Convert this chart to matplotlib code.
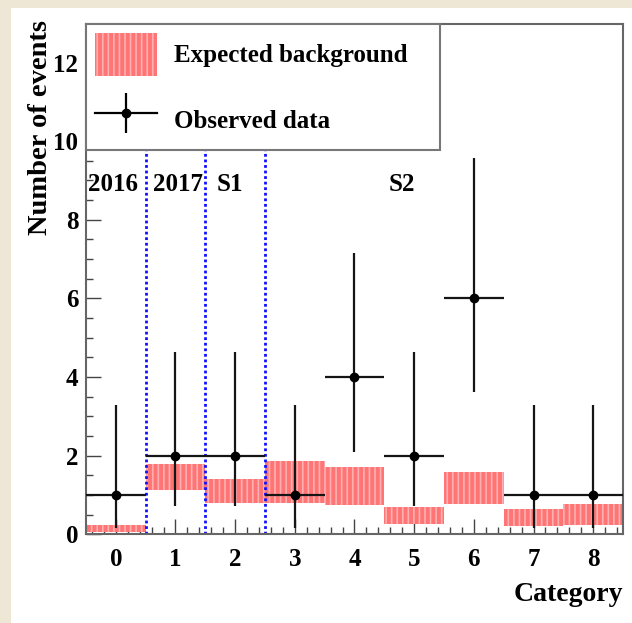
import matplotlib

matplotlib.use("Agg")
import matplotlib.pyplot as plt
from matplotlib.patches import Rectangle
from matplotlib.ticker import MultipleLocator
from matplotlib.legend_handler import HandlerErrorbar

plt.rcParams["font.family"] = "Liberation Serif"
plt.rcParams["font.weight"] = "bold"
plt.rcParams["hatch.linewidth"] = 1.2

# data
categories = [0, 1, 2, 3, 4, 5, 6, 7, 8]
observed = [1, 2, 2, 1, 4, 2, 6, 1, 1]
obs_err_low = [0.83, 1.29, 1.29, 0.83, 1.91, 1.29, 2.38, 0.83, 0.83]
obs_err_high = [2.30, 2.64, 2.64, 2.30, 3.16, 2.64, 3.58, 2.30, 2.30]
bkg_low = [0.05, 1.13, 0.80, 0.80, 0.75, 0.27, 0.77, 0.21, 0.24]
bkg_high = [0.24, 1.78, 1.41, 1.87, 1.70, 0.69, 1.59, 0.64, 0.77]
boundaries = [0.5, 1.5, 2.5]
period_labels = ["2016", "2017", "S1", "S2"]
period_x = [-0.04, 1.04, 1.91, 4.79]

fig = plt.figure(figsize=(6.32, 6.23), dpi=100)
fig.patch.set_facecolor("#efe7d5")
fig.add_artist(Rectangle((11 / 632, 0), 1, 1 - 8 / 623, transform=fig.transFigure,
                         facecolor="white", edgecolor="none", zorder=-10))

ax = fig.add_axes([0.136, 0.1424, 0.8498, 0.8191])
ax.set_xlim(-0.5, 8.5)
ax.set_ylim(0, 12.98)

# expected background band
heights = [h - l for l, h in zip(bkg_low, bkg_high)]
band = ax.bar(categories, heights, bottom=bkg_low, width=1.0, color="#ff7575",
              edgecolor="#ffb0b0", linewidth=0, hatch="|||", zorder=2)

# period separators
for b in boundaries:
    ax.axvline(b, color="#1010ff", linestyle=(0, (1, 1)), linewidth=2, zorder=2.5)

# observed data
ax.errorbar(categories, observed, xerr=0.5, yerr=[obs_err_low, obs_err_high],
            fmt="o", color="black", ecolor="#151515", markersize=6,
            elinewidth=1.6, capsize=0, zorder=3)
# proxy just for the legend entry (caps on vertical bar)
proxy = ax.errorbar([], [], yerr=[], fmt="o-", color="black", markersize=6,
                    linewidth=1.6, elinewidth=1.6, capsize=4.5)

for s, x in zip(period_labels, period_x):
    ax.text(x, 8.89, s, ha="center", va="center", fontsize=18, fontweight="bold")

leg = ax.legend([band, proxy], ["Expected background", "Observed data"],
                loc="upper left", bbox_to_anchor=(0, 0, 0.659, 1), mode="expand",
                borderaxespad=0, fontsize=18, handlelength=2.5, handleheight=2.24,
                labelspacing=0.92, borderpad=0.36, handletextpad=0.65,
                fancybox=False, framealpha=1,
                handler_map={type(proxy): HandlerErrorbar(xerr_size=1.24, yerr_size=0.8)})
leg.get_frame().set_edgecolor("#777777")
leg.get_frame().set_linewidth(1.5)
leg.set_zorder(5)

ax.xaxis.set_major_locator(MultipleLocator(1))
ax.xaxis.set_minor_locator(MultipleLocator(0.2))
ax.yaxis.set_major_locator(MultipleLocator(2))
ax.yaxis.set_minor_locator(MultipleLocator(0.5))
ax.tick_params(which="both", direction="in", top=False, right=False,
               color="#444444", width=1, labelsize=18)
ax.tick_params(which="major", length=10.8)
ax.tick_params(which="minor", length=5)
ax.tick_params(axis="x", pad=10)
ax.tick_params(axis="y", pad=5.5)
for sp in ax.spines.values():
    sp.set_color("#666666")
    sp.set_linewidth(1.5)

ax.set_ylabel("Number of events", fontsize=20.5, fontweight="bold", loc="top")
ax.yaxis.set_label_coords(-0.062, 1.008)
ax.set_xlabel("Category", fontsize=20, fontweight="bold", loc="right")
ax.xaxis.set_label_coords(1, -0.093)

fig.savefig("out.png", dpi=100, facecolor=fig.get_facecolor())
